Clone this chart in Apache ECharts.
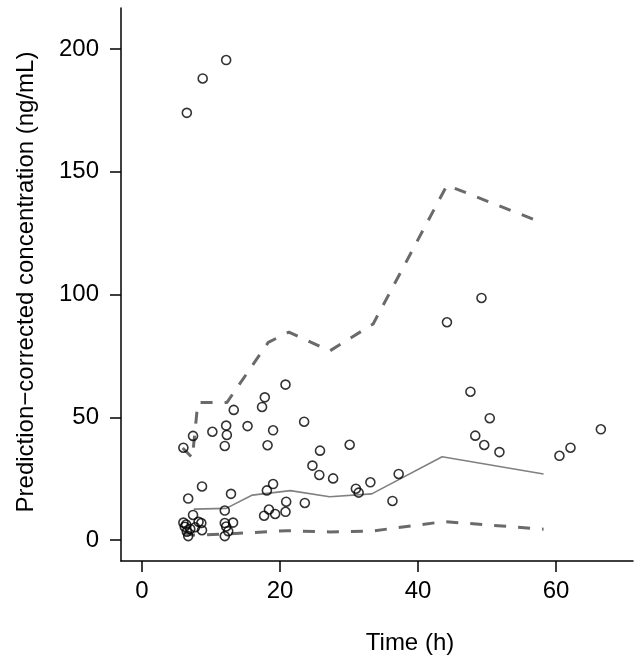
<!DOCTYPE html>
<html>
<head>
<meta charset="utf-8">
<script src="https://cdn.jsdelivr.net/npm/echarts@6/dist/echarts.min.js"></script>
<style>html,body{margin:0;padding:0;background:#fff}#c{width:641px;height:661px}</style>
</head>
<body>
<div id="c"></div>
<script>
// Observed prediction-corrected concentrations
const obsTime = [6.5, 8.8, 12.2, 20.8, 17.8, 17.4, 13.3, 23.5, 12.2, 15.3, 19.0, 10.2, 12.3, 7.4, 12.0, 18.2, 30.1, 6.0, 25.8, 24.7, 25.7, 27.7, 37.2, 8.7, 19.0, 18.1, 31.0, 31.4, 33.1, 12.9, 6.7, 20.9, 23.6, 36.3, 12.0, 18.4, 17.7, 19.3, 20.8, 7.4, 6.0, 6.2, 6.5, 6.7, 7.7, 8.2, 8.6, 8.7, 12.0, 12.2, 12.5, 13.2, 12.0, 7.0, 6.4, 49.2, 44.2, 47.6, 50.4, 48.3, 49.6, 51.8, 60.5, 62.1, 66.5];
const obsConc = [174, 188, 195.5, 63.3, 58.1, 54.2, 53.0, 48.2, 46.6, 46.4, 44.7, 44.1, 42.8, 42.4, 38.3, 38.6, 38.8, 37.6, 36.4, 30.3, 26.5, 25.1, 26.9, 21.8, 22.8, 20.2, 20.9, 19.3, 23.5, 18.8, 16.9, 15.6, 15.1, 15.9, 12.0, 12.4, 9.9, 10.6, 11.5, 10.2, 7.1, 5.4, 3.4, 1.6, 5.2, 7.4, 6.9, 4.0, 6.9, 5.5, 3.6, 7.1, 1.6, 4.5, 6.3, 98.6, 88.7, 60.4, 49.6, 42.5, 38.7, 35.8, 34.3, 37.6, 45.1];

// 95th percentile (upper dashed)
const p95Time = [5.9, 7.3, 8.1, 12.3, 18.3, 21.3, 27.2, 33.5, 44.2, 58.2];
const p95Conc = [37.5, 33.5, 56, 56, 80.5, 84.7, 77, 88, 144.5, 129];
// median (solid)
const p50Time = [7.5, 12.2, 16.0, 21.5, 27.2, 33.3, 43.5, 58.2];
const p50Conc = [12.6, 12.9, 18.3, 20.1, 17.6, 18.8, 33.9, 26.9];
// 5th percentile (lower dashed)
const p05Time = [6.0, 7.3, 11.8, 21.0, 27.2, 33.5, 43.8, 58.2];
const p05Conc = [3.0, 2.0, 2.4, 3.8, 3.3, 3.7, 7.5, 4.4];

// tick labels
const xTicks = [0, 20, 40, 60];
const yTicks = [0, 50, 100, 150, 200];

const zip = (a, b) => a.map((v, i) => [v, b[i]]);
const FONT = 'Liberation Sans, Arial, Helvetica, sans-serif';

const chart = echarts.init(document.getElementById('c'), null, {renderer: 'canvas'});
chart.setOption({
  animation: false,
  backgroundColor: '#ffffff',
  grid: {left: 121, top: 8, width: 512, height: 553, containLabel: false},
  xAxis: {
    type: 'value', min: -3.04, max: 71.16,
    axisLine: {show: true, onZero: false, lineStyle: {color: '#000', width: 1.5}},
    axisTick: {show: true, length: 11, customValues: xTicks, lineStyle: {color: '#000', width: 1.5}},
    axisLabel: {customValues: xTicks, color: '#000', fontSize: 24, fontFamily: FONT, margin: 18},
    splitLine: {show: false}
  },
  yAxis: {
    type: 'value', min: -8.55, max: 216.7,
    axisLine: {show: true, onZero: false, lineStyle: {color: '#000', width: 1.5}},
    axisTick: {show: true, length: 11, customValues: yTicks, lineStyle: {color: '#000', width: 1.5}},
    axisLabel: {customValues: yTicks, color: '#000', fontSize: 24, fontFamily: FONT, margin: 22},
    splitLine: {show: false}
  },
  graphic: [
    {type: 'text', x: 26, y: 282, rotation: Math.PI / 2,
     style: {text: 'Prediction\u2212corrected concentration (ng/mL)', fill: '#000', font: '24px ' + FONT, textAlign: 'center', textVerticalAlign: 'middle'}},
    {type: 'text', x: 410, y: 643,
     style: {text: 'Time (h)', fill: '#000', font: '24px ' + FONT, textAlign: 'center', textVerticalAlign: 'middle'}}
  ],
  series: [
    {type: 'line', data: zip(p95Time, p95Conc), showSymbol: false, symbol: 'none', z: 2,
     lineStyle: {color: '#6a6a6a', width: 3, type: [12, 12]}},
    {type: 'line', data: zip(p50Time, p50Conc), showSymbol: false, symbol: 'none', z: 2,
     lineStyle: {color: '#808080', width: 1.6, type: 'solid'}},
    {type: 'line', data: zip(p05Time, p05Conc), showSymbol: false, symbol: 'none', z: 2,
     lineStyle: {color: '#6a6a6a', width: 3, type: [12, 12]}},
    {type: 'scatter', data: zip(obsTime, obsConc), symbol: 'circle', symbolSize: 9, z: 3,
     itemStyle: {color: 'rgba(0,0,0,0)', borderColor: '#000', borderWidth: 1.6}}
  ]
});
</script>
</body>
</html>
